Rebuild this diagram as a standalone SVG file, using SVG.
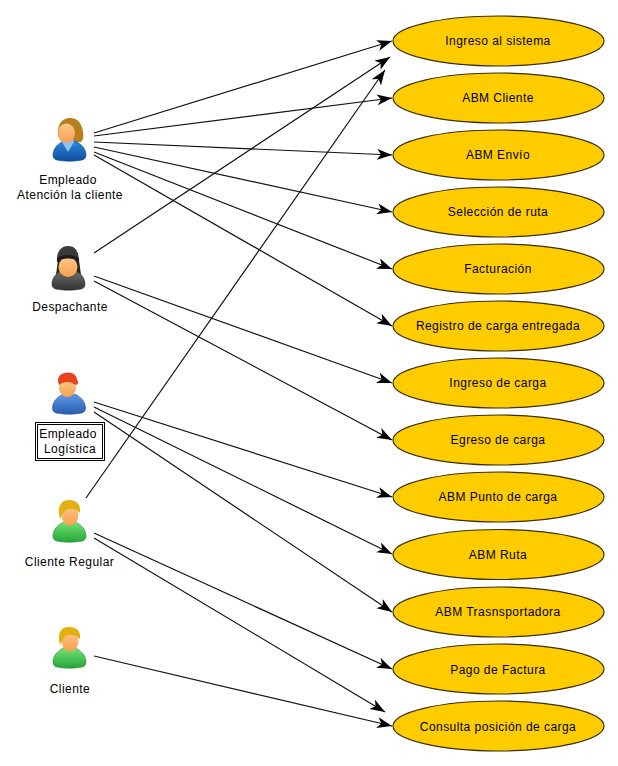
<svg xmlns="http://www.w3.org/2000/svg" width="618" height="766" viewBox="0 0 618 766">
<style>
text{font-family:"Liberation Sans",Arial,sans-serif;font-size:12px;letter-spacing:.45px;fill:#000;text-anchor:middle}
.uc ellipse{fill:#ffcc00;stroke:#3a2f00;stroke-width:1.2}
.con line{stroke:#111;stroke-width:1.2;marker-end:url(#a)}
</style>
<defs>
<marker id="a" markerUnits="userSpaceOnUse" markerWidth="16" markerHeight="12" refX="15" refY="5.500" orient="auto">
<path d="M0 0L15 5.500L0 11L4 5.500Z" fill="#000"/>
</marker>
<linearGradient id="blue" x1="0" y1="0" x2="0" y2="1"><stop offset="0" stop-color="#2f86dc"/><stop offset="1" stop-color="#0f4f9e"/></linearGradient>
<linearGradient id="lblue" x1="0" y1="0" x2="0" y2="1"><stop offset="0" stop-color="#5f9ae6"/><stop offset="1" stop-color="#2a5cae"/></linearGradient>
<linearGradient id="green" x1="0" y1="0" x2="0" y2="1"><stop offset="0" stop-color="#72e272"/><stop offset="1" stop-color="#25a53a"/></linearGradient>
<linearGradient id="dark" x1="0" y1="0" x2="0" y2="1"><stop offset="0" stop-color="#707070"/><stop offset="1" stop-color="#333"/></linearGradient>
<linearGradient id="skin" x1="0" y1="0" x2="0" y2="1"><stop offset="0" stop-color="#fcc88a"/><stop offset="1" stop-color="#f8a04e"/></linearGradient>
<path id="body" d="M-16.500 15C-17 8-12 3-6 0L0 3L6 0C12 3 17 8 16.500 15C16 18 14 19 10 19.500C4 20.500-4 20.500-10 19.500C-14 19-16 18-16.500 15Z"/>
</defs>

<g class="con" fill="none">
<line x1="94" y1="133" x2="392" y2="41"/>
<line x1="94" y1="136" x2="392" y2="98"/>
<line x1="94" y1="142" x2="392" y2="155"/>
<line x1="94" y1="147" x2="392" y2="212"/>
<line x1="94" y1="152" x2="392" y2="269"/>
<line x1="94" y1="155" x2="392" y2="326"/>
<line x1="94" y1="253" x2="390" y2="57"/>
<line x1="94" y1="276" x2="392" y2="383"/>
<line x1="94" y1="281" x2="392" y2="440"/>
<line x1="94" y1="402" x2="392" y2="497"/>
<line x1="94" y1="407" x2="392" y2="554"/>
<line x1="94" y1="412" x2="392" y2="612"/>
<line x1="86" y1="498" x2="385" y2="70"/>
<line x1="94" y1="533" x2="392" y2="669"/>
<line x1="94" y1="538" x2="385" y2="712"/>
<line x1="94" y1="656" x2="392" y2="726"/>
</g>

<g id="actor-empleado-atencion">
<path d="M58 136C57 124 62 118 70 118C78 118 82 124 83 132C84 137 83 140 81 142L62 142Z" fill="#b8801c"/>
<use href="#body" x="69.500" y="141" fill="url(#blue)" stroke="#0d3f80" stroke-width=".5"/>
<path d="M62 142L68 152L74 142L73 139L63 139Z" fill="#8cc4ee"/>
<ellipse cx="66.500" cy="133" rx="8.500" ry="9.500" fill="url(#skin)"/>
<text x="68" y="184">Empleado</text>
<text x="70" y="199">Atención la cliente</text>
</g>

<g id="actor-despachante">
<path d="M58 260L56 275L62 279L76 279L81 275L79 260Z" fill="#2d2416"/>
<use href="#body" x="68.500" y="270" fill="url(#dark)" stroke="#222" stroke-width=".5"/>
<ellipse cx="68" cy="267" rx="9.500" ry="10" fill="url(#skin)"/>
<path d="M57 262C56 251 62 246 68 246C75 246 79 251 79 262C73 257 63 257 57 262Z" fill="#3b3b3b"/>
<path d="M57 262C63 257 73 257 79 262L79 258C73 254 63 254 57 258Z" fill="#1c1c1c"/>
<text x="70" y="311">Despachante</text>
</g>

<g id="actor-empleado-logistica">
<use href="#body" x="69" y="394" fill="url(#lblue)" stroke="#1e4690" stroke-width=".5"/>
<ellipse cx="67.500" cy="388" rx="8.500" ry="9" fill="url(#skin)"/>
<path d="M59 385C56 378 60 373 67 372.500C74 372.500 77 376 77 380C79 381 78 385 76 385C70 381 64 381 59 385Z" fill="#e8431f"/>
<rect x="35.500" y="422.500" width="69" height="38" fill="#fff" stroke="#000"/>
<rect x="37.500" y="424.500" width="65" height="34" fill="none" stroke="#000"/>
<text x="68" y="438">Empleado</text>
<text x="70" y="453">Logística</text>
</g>

<g id="actor-cliente-regular">
<use href="#body" x="69.500" y="522" fill="url(#green)" stroke="#178028" stroke-width=".5"/>
<ellipse cx="70" cy="515" rx="8.500" ry="10.500" fill="url(#skin)"/>
<path d="M60 519C57 508 60 500 69 500C77 500 81 505 80 513C75 508 67 507 63 513C62 515 61 517 60 519Z" fill="#e3b011"/>
<text x="69.500" y="566">Cliente Regular</text>
</g>

<g id="actor-cliente">
<use href="#body" x="69.500" y="648" fill="url(#green)" stroke="#178028" stroke-width=".5"/>
<ellipse cx="70" cy="641" rx="8.500" ry="10.500" fill="url(#skin)"/>
<path d="M60 645C57 634 60 627 69 627C77 627 81 631 80 639C75 634 67 633 63 639C62 641 61 643 60 645Z" fill="#e3b011"/>
<text x="70" y="693">Cliente</text>
</g>

<g id="uc-ingreso-sistema" class="uc"><ellipse cx="498.500" cy="41" rx="105.500" ry="25"/><text x="498" y="45">Ingreso al sistema</text></g>
<g id="uc-abm-cliente" class="uc"><ellipse cx="498.500" cy="98" rx="105.500" ry="25"/><text x="498" y="102">ABM Cliente</text></g>
<g id="uc-abm-envio" class="uc"><ellipse cx="498.500" cy="155" rx="105.500" ry="25"/><text x="498" y="159">ABM Envío</text></g>
<g id="uc-seleccion-ruta" class="uc"><ellipse cx="498.500" cy="212" rx="105.500" ry="25"/><text x="498" y="216">Selección de ruta</text></g>
<g id="uc-facturacion" class="uc"><ellipse cx="498.500" cy="269" rx="105.500" ry="25"/><text x="498" y="273">Facturación</text></g>
<g id="uc-registro-carga" class="uc"><ellipse cx="498.500" cy="326" rx="105.500" ry="25"/><text x="498" y="330">Registro de carga entregada</text></g>
<g id="uc-ingreso-carga" class="uc"><ellipse cx="498.500" cy="383" rx="105.500" ry="25"/><text x="498" y="387">Ingreso de carga</text></g>
<g id="uc-egreso-carga" class="uc"><ellipse cx="498.500" cy="440" rx="105.500" ry="25"/><text x="498" y="444">Egreso de carga</text></g>
<g id="uc-abm-punto" class="uc"><ellipse cx="498.500" cy="497" rx="105.500" ry="25"/><text x="498" y="501">ABM Punto de carga</text></g>
<g id="uc-abm-ruta" class="uc"><ellipse cx="498.500" cy="554.500" rx="105.500" ry="25"/><text x="498" y="559">ABM Ruta</text></g>
<g id="uc-abm-transportadora" class="uc"><ellipse cx="498.500" cy="612" rx="105.500" ry="25"/><text x="498" y="616">ABM Trasnsportadora</text></g>
<g id="uc-pago-factura" class="uc"><ellipse cx="498.500" cy="669" rx="105.500" ry="25"/><text x="498" y="674">Pago de Factura</text></g>
<g id="uc-consulta-posicion" class="uc"><ellipse cx="498.500" cy="726" rx="105.500" ry="25"/><text x="498" y="731">Consulta posición de carga</text></g>
</svg>
